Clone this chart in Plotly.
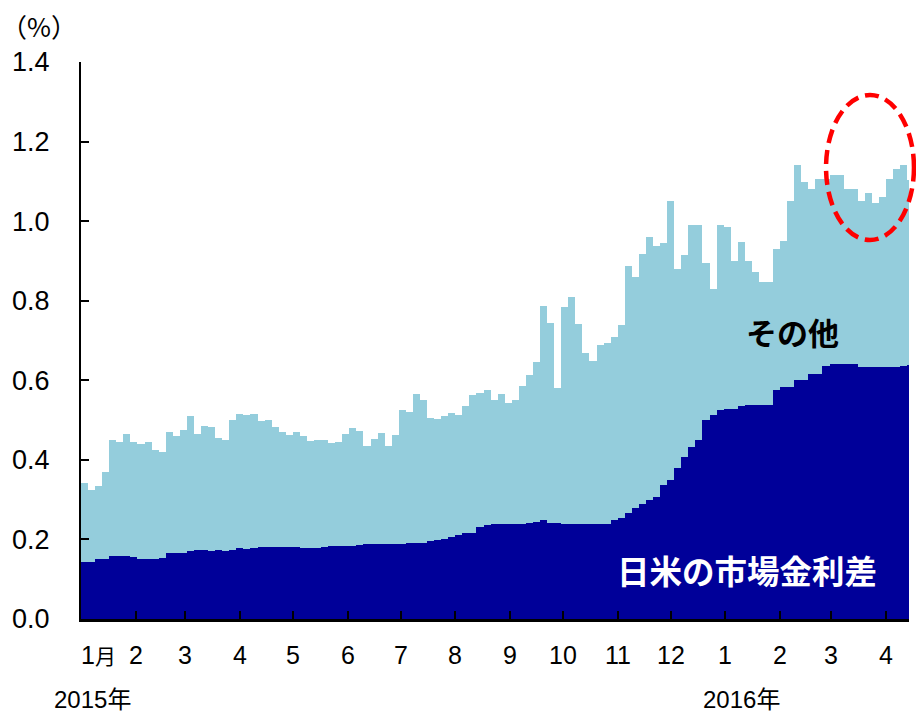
import pandas as pd
import plotly.graph_objects as go

# 4-day sampling grid, Jan 2015 - mid Apr 2016
period_start = pd.date_range("2015-01-01", periods=118, freq="4D")

# 日米の市場金利差 (%)
rate_diff = [
    0.144, 0.143, 0.150, 0.150, 0.158, 0.158, 0.158, 0.155, 0.151, 0.152,
    0.152, 0.153, 0.165, 0.165, 0.166, 0.172, 0.173, 0.173, 0.172, 0.173,
    0.170, 0.174, 0.178, 0.175, 0.178, 0.182, 0.182, 0.182, 0.182, 0.182,
    0.182, 0.178, 0.178, 0.178, 0.180, 0.184, 0.184, 0.184, 0.184, 0.186,
    0.188, 0.188, 0.188, 0.188, 0.188, 0.189, 0.190, 0.190, 0.192, 0.195,
    0.198, 0.200, 0.205, 0.211, 0.215, 0.217, 0.230, 0.236, 0.240, 0.240,
    0.240, 0.240, 0.240, 0.241, 0.245, 0.250, 0.242, 0.242, 0.240, 0.240,
    0.240, 0.240, 0.240, 0.240, 0.240, 0.250, 0.253, 0.266, 0.280, 0.289,
    0.300, 0.307, 0.337, 0.350, 0.379, 0.408, 0.433, 0.451, 0.500, 0.514,
    0.525, 0.529, 0.529, 0.535, 0.538, 0.538, 0.538, 0.538, 0.575, 0.584,
    0.584, 0.600, 0.600, 0.617, 0.617, 0.636, 0.640, 0.641, 0.641, 0.641,
    0.634, 0.634, 0.634, 0.634, 0.634, 0.634, 0.636, 0.638,
]

# その他 (%)
other = [
    0.199, 0.182, 0.184, 0.220, 0.292, 0.287, 0.307, 0.290, 0.289, 0.293,
    0.273, 0.267, 0.305, 0.295, 0.310, 0.338, 0.293, 0.312, 0.311, 0.283,
    0.280, 0.326, 0.337, 0.338, 0.337, 0.315, 0.318, 0.301, 0.288, 0.280,
    0.288, 0.282, 0.269, 0.273, 0.270, 0.259, 0.261, 0.281, 0.296, 0.286,
    0.248, 0.264, 0.279, 0.248, 0.274, 0.336, 0.331, 0.375, 0.358, 0.310,
    0.305, 0.310, 0.313, 0.302, 0.320, 0.345, 0.337, 0.339, 0.310, 0.325,
    0.304, 0.310, 0.345, 0.372, 0.401, 0.536, 0.503, 0.338, 0.545, 0.570,
    0.502, 0.429, 0.408, 0.448, 0.454, 0.459, 0.487, 0.622, 0.580, 0.628,
    0.660, 0.631, 0.608, 0.700, 0.501, 0.507, 0.557, 0.539, 0.396, 0.316,
    0.465, 0.457, 0.371, 0.413, 0.362, 0.334, 0.310, 0.308, 0.355, 0.366,
    0.466, 0.540, 0.499, 0.463, 0.490, 0.471, 0.475, 0.475, 0.439, 0.439,
    0.416, 0.436, 0.411, 0.426, 0.471, 0.496, 0.506, 0.465,
]

month_ticks = pd.date_range("2015-01-01", "2016-04-01", freq="MS")
month_labels = ["1月", "2", "3", "4", "5", "6", "7", "8", "9", "10", "11", "12",
                "1", "2", "3", "4"]
year_labels = ["2015年", "2016年"]
y_ticks = [0.0, 0.2, 0.4, 0.6, 0.8, 1.0, 1.2, 1.4]

NAVY = "#000099"
LIGHT = "#94CDDC"
FONT = "Liberation Sans Narrow, Liberation Sans, Noto Sans CJK JP, sans-serif"
JP_FONT = "Noto Sans CJK JP, sans-serif"
DAY_MS = 86400000

fig = go.Figure()
fig.add_trace(go.Bar(x=period_start, y=rate_diff, width=4 * DAY_MS, offset=0,
                     marker=dict(color=NAVY, line=dict(width=0)),
                     name="日米の市場金利差"))
fig.add_trace(go.Bar(x=period_start, y=other, width=4 * DAY_MS, offset=0,
                     marker=dict(color=LIGHT, line=dict(width=0)),
                     name="その他"))

annotations = []
for i, (d, lab) in enumerate(zip(month_ticks, month_labels)):
    if i == 0:
        text = "1<span style='font-size:21px'>月</span>"
    else:
        text = lab
    annotations.append(dict(
        x=d, xref="x", y=-0.065, yref="paper",
        text=text, showarrow=False,
        xanchor="left" if i == 0 else "center", yanchor="middle",
        xshift=-2 if i == 0 else 0,
        font=dict(family=FONT, size=25, color="black")))
annotations += [
    dict(x=0.0133, y=-0.145, xref="paper", yref="paper", text=year_labels[0],
         showarrow=False, xanchor="center", yanchor="middle",
         font=dict(family=FONT, size=24, color="black")),
    dict(x=0.798, y=-0.145, xref="paper", yref="paper", text=year_labels[1],
         showarrow=False, xanchor="center", yanchor="middle",
         font=dict(family=FONT, size=24, color="black")),
    dict(x=-0.0507, y=1.066, xref="paper", yref="paper", text="（%）",
         showarrow=False, xanchor="center", yanchor="middle",
         font=dict(family=JP_FONT, size=26, color="black")),
    dict(x=0.8587, y=0.5153, xref="paper", yref="paper", text="<b>その他</b>",
         showarrow=False, xanchor="center", yanchor="middle",
         font=dict(family=JP_FONT, size=31, color="black")),
    dict(x=0.804, y=0.088, xref="paper", yref="paper", text="<b>日米の市場金利差</b>",
         showarrow=False, xanchor="center", yanchor="middle",
         font=dict(family=JP_FONT, size=32.5, color="white")),
]

fig.update_layout(
    width=916, height=712,
    margin=dict(l=81, r=7, t=62, b=93),
    paper_bgcolor="white", plot_bgcolor="white",
    barmode="stack", bargap=0, showlegend=False,
    annotations=annotations,
    shapes=[dict(type="circle", xref="paper", yref="paper",
                 x0=0.8998, x1=1.006, y0=0.6804, y1=0.9407,
                 line=dict(color="#FF0000", width=4.5, dash="14px,7px"))],
)
fig.update_xaxes(
    type="date", range=["2015-01-01", "2016-04-14"],
    tickvals=month_ticks, showticklabels=False,
    ticks="inside", ticklen=8, tickwidth=2, tickcolor="black",
    showline=True, linecolor="black", linewidth=2.5,
    showgrid=False, zeroline=False,
)
fig.update_yaxes(
    range=[0, 1.4], tickvals=y_ticks, tickformat=".1f",
    ticks="inside", ticklen=8, tickwidth=2, tickcolor="black",
    ticklabelstandoff=24,
    showline=True, linecolor="black", linewidth=2,
    showgrid=False, zeroline=False,
    tickfont=dict(family=FONT, size=27, color="black"),
)

fig.write_html("out.html")
